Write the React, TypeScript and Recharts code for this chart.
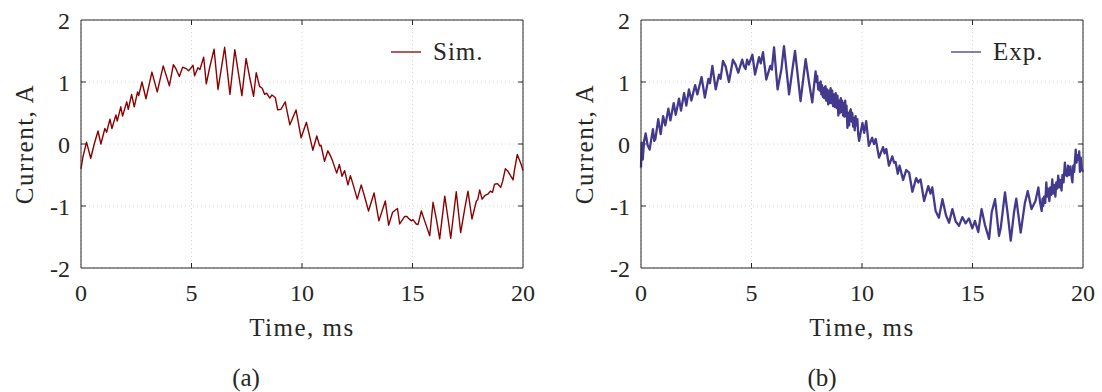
import React from 'react';
import { LineChart, Line, XAxis, YAxis, CartesianGrid, ReferenceLine } from 'recharts';

// time axis in ms, current in A
const simTime = [
  0.00, 0.08, 0.25, 0.44, 0.60, 0.77, 0.90, 1.08, 1.16, 1.31, 1.40, 1.58, 1.64, 1.80, 1.88, 2.07,
  2.14, 2.29, 2.41, 2.56, 2.61, 2.76, 2.94, 3.21, 3.45, 3.72, 4.00, 4.18, 4.30, 4.45, 4.60, 4.78,
  4.87, 5.07, 5.14, 5.29, 5.38, 5.55, 5.67, 5.82, 6.02, 6.20, 6.50, 6.74, 6.96, 7.28, 7.47, 7.63,
  7.81, 7.93, 8.08, 8.20, 8.31, 8.40, 8.54, 8.64, 8.79, 8.90, 9.05, 9.24, 9.45, 9.73, 9.96, 10.20,
  10.49, 10.67, 10.80, 10.86, 11.02, 11.17, 11.30, 11.39, 11.57, 11.69, 11.81, 11.93, 12.08, 12.19,
  12.35, 12.50, 12.68, 12.85, 13.01, 13.26, 13.48, 13.77, 13.92, 14.10, 14.32, 14.42, 14.64, 14.75,
  14.82, 14.95, 15.02, 15.17, 15.25, 15.40, 15.55, 15.78, 15.93, 16.08, 16.23, 16.46, 16.61, 16.73,
  16.98, 17.18, 17.36, 17.51, 17.69, 17.89, 17.95, 18.04, 18.15, 18.28, 18.41, 18.52, 18.62, 18.71,
  18.85, 18.99, 19.08, 19.20, 19.32, 19.55, 19.62, 19.74, 19.92, 20.00,
];
const simCurrent = [
  -0.40, -0.22, 0.03, -0.23, 0.00, 0.21, 0.00, 0.25, 0.19, 0.40, 0.25, 0.47, 0.37, 0.60, 0.45, 0.68,
  0.56, 0.80, 0.60, 0.84, 0.78, 1.00, 0.73, 1.16, 0.84, 1.26, 0.94, 1.28, 1.21, 1.09, 1.24, 1.21,
  1.18, 1.27, 1.10, 1.23, 1.20, 1.40, 0.97, 1.23, 1.53, 0.88, 1.56, 0.80, 1.52, 0.78, 1.38, 1.08,
  0.77, 1.15, 0.93, 0.90, 0.80, 0.82, 0.74, 0.79, 0.75, 0.55, 0.56, 0.68, 0.31, 0.55, 0.10, 0.35,
  -0.10, 0.13, -0.03, -0.02, -0.28, -0.11, -0.20, -0.28, -0.47, -0.33, -0.52, -0.43, -0.66, -0.51,
  -0.70, -0.89, -0.66, -0.87, -1.08, -0.79, -1.24, -0.92, -1.31, -1.10, -1.04, -1.29, -1.17, -1.17,
  -1.20, -1.24, -1.22, -1.29, -1.30, -1.08, -1.24, -1.48, -0.94, -1.21, -1.53, -0.84, -1.21, -1.52,
  -0.77, -1.43, -1.05, -0.76, -1.21, -0.92, -0.90, -0.74, -0.89, -0.83, -0.81, -0.76, -0.78, -0.65,
  -0.64, -0.70, -0.60, -0.40, -0.44, -0.58, -0.41, -0.17, -0.33, -0.43,
];

const expTime = [
  0.00, 0.03, 0.08, 0.14, 0.21, 0.30, 0.39, 0.54, 0.60, 0.65, 0.78, 0.89, 1.00, 1.10, 1.24, 1.33,
  1.48, 1.57, 1.72, 1.81, 1.95, 2.05, 2.17, 2.28, 2.45, 2.55, 2.74, 2.89, 3.05, 3.12, 3.23, 3.38,
  3.53, 3.60, 3.71, 3.83, 3.98, 4.16, 4.28, 4.40, 4.58, 4.66, 4.73, 4.80, 4.88, 5.04, 5.16, 5.34,
  5.42, 5.52, 5.67, 5.85, 5.92, 6.02, 6.18, 6.35, 6.47, 6.70, 6.85, 6.97, 7.22, 7.45, 7.60, 7.75,
  7.90, 7.94, 7.97, 8.02, 8.05, 8.08, 8.13, 8.16, 8.19, 8.23, 8.26, 8.29, 8.32, 8.35, 8.38, 8.42,
  8.47, 8.51, 8.54, 8.58, 8.62, 8.65, 8.69, 8.73, 8.77, 8.81, 8.85, 8.89, 8.93, 8.97, 9.00, 9.04,
  9.07, 9.10, 9.14, 9.17, 9.20, 9.24, 9.27, 9.30, 9.34, 9.38, 9.42, 9.45, 9.49, 9.53, 9.56, 9.60,
  9.64, 9.67, 9.71, 9.75, 9.79, 9.83, 9.87, 10.02, 10.10, 10.19, 10.31, 10.46, 10.54, 10.62, 10.77,
  10.95, 11.02, 11.10, 11.22, 11.37, 11.45, 11.52, 11.62, 11.70, 11.86, 12.00, 12.13, 12.28, 12.45,
  12.55, 12.65, 12.81, 13.00, 13.10, 13.18, 13.33, 13.48, 13.64, 13.80, 13.94, 14.09, 14.24, 14.39,
  14.54, 14.69, 14.84, 14.99, 15.11, 15.26, 15.41, 15.56, 15.75, 15.87, 16.02, 16.20, 16.28, 16.47,
  16.60, 16.73, 16.88, 16.98, 17.18, 17.37, 17.50, 17.67, 17.85, 17.98, 18.06, 18.13, 18.17, 18.20,
  18.24, 18.29, 18.34, 18.38, 18.42, 18.48, 18.52, 18.56, 18.61, 18.65, 18.70, 18.75, 18.79, 18.83,
  18.88, 18.92, 18.96, 19.03, 19.07, 19.12, 19.18, 19.22, 19.28, 19.32, 19.37, 19.43, 19.48, 19.52,
  19.56, 19.60, 19.67, 19.71, 19.75, 19.80, 19.83, 19.86, 19.90, 19.95, 20.00,
];
const expCurrent = [
  -0.38, 0.02, -0.25, 0.05, 0.17, -0.02, -0.09, 0.24, 0.05, 0.08, 0.40, 0.16, 0.45, 0.30, 0.57, 0.38,
  0.66, 0.47, 0.73, 0.54, 0.82, 0.62, 0.88, 0.70, 0.95, 0.80, 1.08, 0.75, 1.05, 0.98, 1.26, 0.88,
  1.12, 1.05, 1.34, 1.25, 1.00, 1.36, 1.28, 1.15, 1.36, 1.25, 1.21, 1.36, 1.28, 1.44, 1.12, 1.40,
  1.30, 1.48, 1.04, 1.26, 1.20, 1.56, 0.88, 1.20, 1.58, 0.80, 1.20, 1.50, 0.69, 1.37, 1.00, 0.67,
  1.17, 1.00, 1.10, 0.88, 0.98, 0.86, 1.01, 0.80, 0.95, 0.76, 0.90, 0.74, 0.92, 0.93, 0.70, 0.88,
  0.64, 0.86, 0.66, 0.90, 0.66, 0.86, 0.61, 0.80, 0.60, 0.82, 0.58, 0.78, 0.46, 0.70, 0.50, 0.74,
  0.52, 0.70, 0.46, 0.66, 0.44, 0.70, 0.45, 0.62, 0.26, 0.50, 0.30, 0.52, 0.56, 0.36, 0.50, 0.28,
  0.42, 0.22, 0.45, 0.30, 0.40, 0.15, 0.05, 0.34, 0.18, 0.37, -0.03, 0.10, 0.00, 0.08, -0.22,
  -0.05, -0.15, -0.08, -0.35, -0.20, -0.30, -0.29, -0.48, -0.35, -0.58, -0.42, -0.46, -0.77, -0.55,
  -0.62, -0.57, -0.92, -0.68, -0.80, -0.70, -1.08, -1.19, -0.89, -1.15, -1.27, -1.05, -1.25, -1.32,
  -1.18, -1.28, -1.20, -1.36, -1.24, -1.42, -1.05, -1.30, -1.53, -1.10, -0.89, -1.48, -1.35, -0.78,
  -1.15, -1.56, -1.10, -0.88, -1.43, -0.95, -0.76, -1.05, -0.92, -0.70, -0.95, -1.08, -0.88, -1.00,
  -0.85, -0.95, -0.62, -0.85, -0.72, -0.92, -0.70, -0.82, -0.57, -0.80, -0.66, -0.85, -0.62, -0.72,
  -0.51, -0.70, -0.58, -0.75, -0.50, -0.62, -0.30, -0.50, -0.52, -0.35, -0.50, -0.36, -0.52, -0.62,
  -0.35, -0.45, -0.09, -0.30, -0.18, -0.25, -0.12, -0.45, -0.22, -0.40, -0.45,
];

const xTicks = [0, 5, 10, 15, 20];
const yTicks = [-2, -1, 0, 1, 2];

const simData = simTime.map((t, i) => ({ time: t, current: simCurrent[i] }));
const expData = expTime.map((t, i) => ({ time: t, current: expCurrent[i] }));

const INK = '#262626';
const FONT = 'Liberation Serif';

const YTitle = ({ viewBox }: any) => {
  const cy = viewBox.y + viewBox.height / 2;
  return (
    <text x={24} y={cy} transform={`rotate(-90, 24, ${cy})`} textAnchor="middle" dominantBaseline="central"
      fill={INK} fontSize={25} fontFamily={FONT} letterSpacing={1.5}>
      Current, A
    </text>
  );
};

const XTitle = () => (
  <text x={302} y={336} textAnchor="middle" fill={INK} fontSize={25} fontFamily={FONT} letterSpacing={1.5}>
    Time, ms
  </text>
);

interface PanelProps {
  data: { time: number; current: number }[];
  color: string;
  name: string;
  caption: string;
  captionX: number;
  left: number;
  lineWidth: number;
}

const Panel: React.FC<PanelProps> = ({ data, color, name, caption, captionX, left, lineWidth }) => {
  const tickStyle = { fill: INK, fontSize: 24, fontFamily: FONT };
  return (
    <div style={{ position: 'absolute', left, top: 0, width: 560, height: 392 }}>
      <LineChart width={560} height={392} data={data}
        margin={{ top: 20, right: 37, left: 21, bottom: 64 }}>
        <CartesianGrid stroke="#d4d4d4" strokeDasharray="1 3" />
        <XAxis dataKey="time" type="number" domain={[0, 20]} ticks={xTicks} height={60}
          tick={tickStyle} tickSize={0} tickMargin={16} axisLine={{ stroke: INK }}
          label={<XTitle />} />
        <YAxis type="number" domain={[-2, 2]} ticks={yTicks} width={60}
          tick={tickStyle} tickSize={0} tickMargin={11} axisLine={{ stroke: INK }}
          label={<YTitle />} />
        <ReferenceLine y={2} stroke={INK} />
        <ReferenceLine x={20} stroke={INK} />
        {xTicks.slice(1, -1).map((t) => (
          <ReferenceLine key={`b${t}`} segment={[{ x: t, y: -2 }, { x: t, y: -1.92 }]} stroke={INK} />
        ))}
        {xTicks.slice(1, -1).map((t) => (
          <ReferenceLine key={`t${t}`} segment={[{ x: t, y: 2 }, { x: t, y: 1.92 }]} stroke={INK} />
        ))}
        {yTicks.slice(1, -1).map((v) => (
          <ReferenceLine key={`l${v}`} segment={[{ x: 0, y: v }, { x: 0.22, y: v }]} stroke={INK} />
        ))}
        {yTicks.slice(1, -1).map((v) => (
          <ReferenceLine key={`r${v}`} segment={[{ x: 20, y: v }, { x: 19.78, y: v }]} stroke={INK} />
        ))}
        <Line type="linear" dataKey="current" stroke={color} strokeWidth={lineWidth} dot={false}
          strokeLinejoin="round" isAnimationActive={false} />
      </LineChart>
      <div style={{ position: 'absolute', left: 391, top: 38, display: 'flex', alignItems: 'center',
        fontFamily: FONT, fontSize: 25, color: INK, letterSpacing: 1 }}>
        <svg width={30} height={4}><line x1={0} y1={2} x2={30} y2={2} stroke={color} strokeWidth={1.3} /></svg>
        <span style={{ marginLeft: 12 }}>{name}</span>
      </div>
      <div style={{ position: 'absolute', left: captionX - 40, width: 80, top: 364, textAlign: 'center',
        fontFamily: FONT, fontSize: 25, color: INK }}>
        {caption}
      </div>
    </div>
  );
};

const App: React.FC = () => (
  <div style={{ position: 'absolute', left: 0, top: 0, width: 1102, height: 392, background: '#fff' }}>
    <Panel data={simData} color="#8b0000" name="Sim." caption="(a)" captionX={246} left={0} lineWidth={1.4} />
    <Panel data={expData} color="#433a8e" name="Exp." caption="(b)" captionX={262} left={560} lineWidth={2.3} />
  </div>
);

export default App;
